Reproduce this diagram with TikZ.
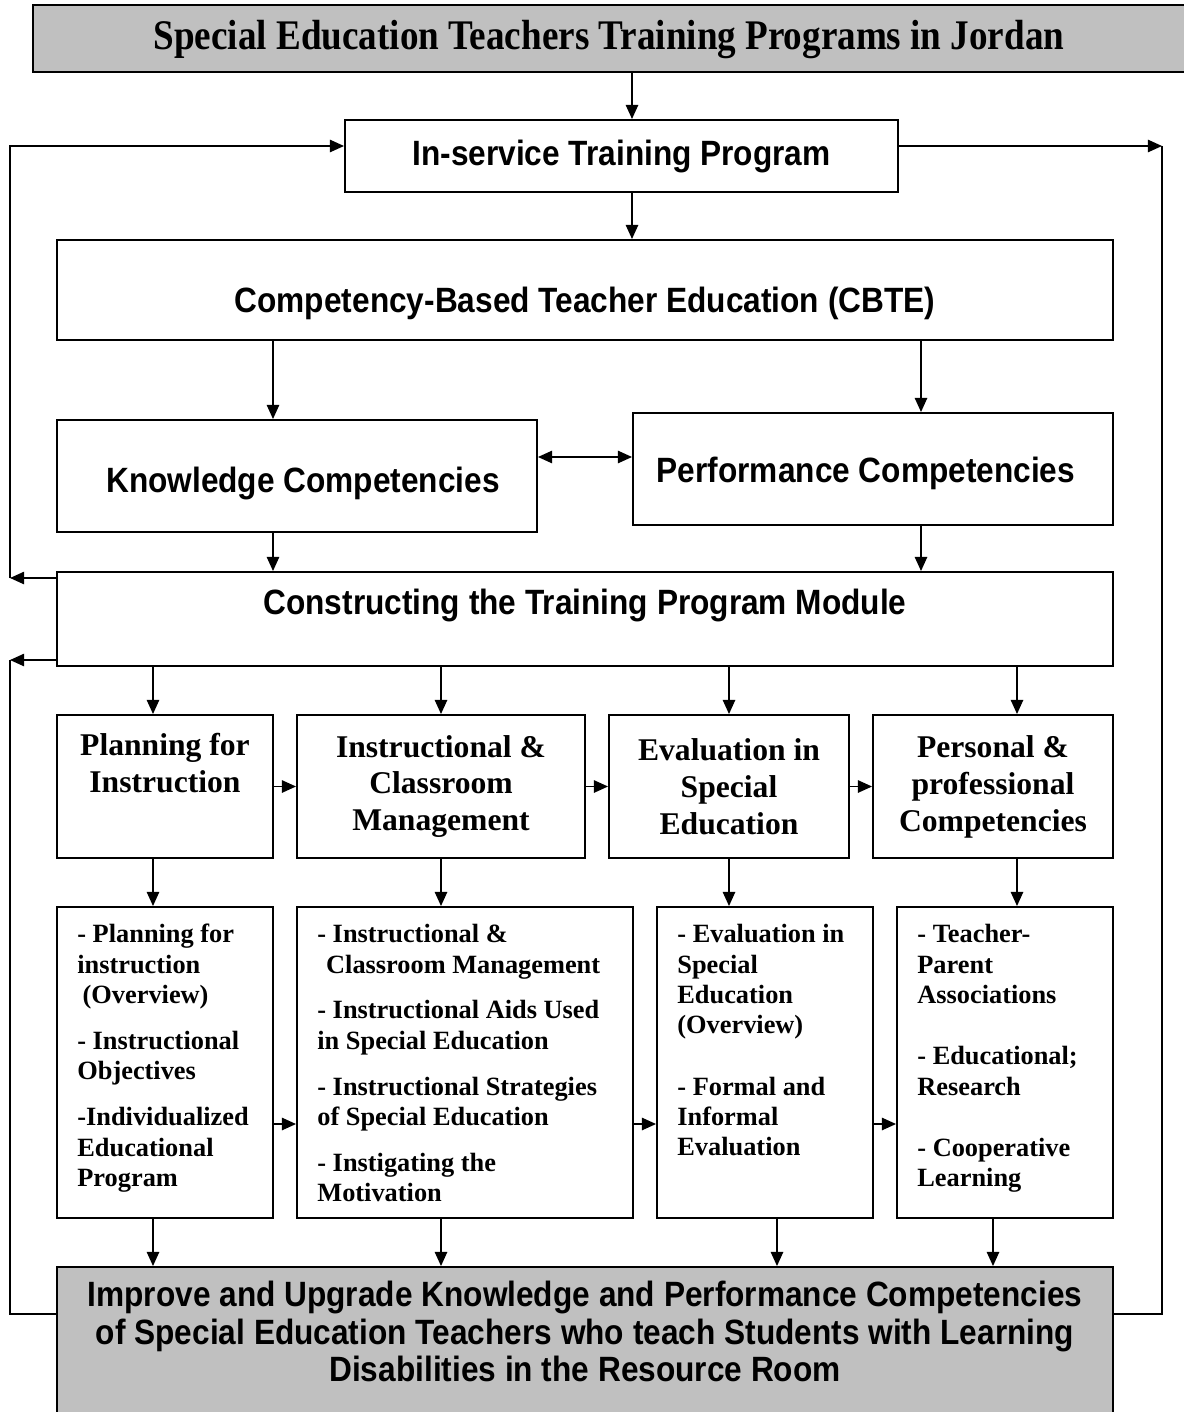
\documentclass[tikz,border=0pt]{standalone}
\usepackage{fontspec}
\setmainfont{Liberation Serif}
\setsansfont{Liberation Sans}
\newfontfamily\condserif{Liberation Serif Bold}[FakeStretch=0.88]
\newfontfamily\condsans{Liberation Sans Bold}[FakeStretch=0.9]
\usetikzlibrary{arrows.meta,positioning}
\definecolor{fmgray}{HTML}{C0C0C0}
\tikzset{
  box/.style={draw, line width=1.1pt, inner sep=0pt, align=center},
  gbox/.style={box, fill=fmgray},
  sz/.style 2 args={minimum width=#1*0.02cm, minimum height=#2*0.02cm},
  arr/.style={-{Triangle[length=8pt,width=7pt]}, line width=0.9pt},
  darr/.style={{Triangle[length=8pt,width=7pt]}-{Triangle[length=8pt,width=7pt]}, line width=0.9pt},
  stxt/.style={font=\condsans\fontsize{20}{21.3}\selectfont, align=center, inner sep=0pt},
  htxt/.style={font=\bfseries\fontsize{18}{21}\selectfont},
  ltxt/.style={font=\bfseries\fontsize{15}{17.3}\selectfont, align=left, inner sep=0pt, anchor=north west},
}
\begin{document}
\begin{tikzpicture}[x=0.02cm, y=-0.02cm]
\useasboundingbox (0,0) rectangle (1183,1412);
% guides for connectors
\coordinate (xm) at (632,0);
\coordinate (xk) at (273,0);
\coordinate (xp) at (921,0);
\coordinate (ca) at (153,0);
\coordinate (cb) at (441,0);
\coordinate (cc) at (729,0);
\coordinate (cd) at (1017,0);
\coordinate (ce) at (777,0);
\coordinate (cf) at (993,0);
\coordinate (xl) at (10,0);
\coordinate (xr) at (1162,0);
\coordinate (yin) at (0,146);
\coordinate (ykp) at (0,457);
\coordinate (yc1) at (0,578);
\coordinate (yc2) at (0,660);
\coordinate (yr2) at (0,1124);
\coordinate (ybt) at (0,1314);

\node[gbox, sz={1200}{67}] (title) at (633,38.5) {};
\node[font=\condserif\fontsize{24}{25}\selectfont, inner sep=0pt] (titlet) at (609,40)
  {Special Education Teachers Training Programs in Jordan};
\node[box, sz={553}{72}, stxt] (inserv) at (621.5,156) {In-service Training Program};
\node[box, sz={1056}{100}] (cbte) at (585,290) {};
\node[stxt, below=0.96cm of cbte.north] (cbtet) {Competency-Based Teacher Education (CBTE)};
\node[box, sz={480}{112}] (know) at (297,476) {};
\node[stxt] (knowt) at ([xshift=0.12cm, yshift=-0.14cm]know.center) {Knowledge Competencies};
\node[box, sz={480}{112}] (perf) at (873,469) {};
\node[stxt] (perft) at ([xshift=-0.14cm, yshift=-0.08cm]perf.center) {Performance Competencies};
\node[box, sz={1056}{94}] (cons) at (585,619) {};
\node[stxt, below=0.36cm of cons.north] (const) {Constructing the Training Program Module};

% competency areas
\node[box, sz={216}{143}, htxt] (plan) at (165,786.5) {Planning for\\Instruction\\\strut};
\node[box, sz={288}{143}, htxt] (inst) at (441,786.5) {Instructional \&\\Classroom\\Management};
\node[box, sz={240}{143}, htxt] (eval) at (729,786.5) {Evaluation in\\Special\\Education};
\node[box, sz={240}{143}, htxt] (pers) at (993,786.5) {Personal \&\\professional\\Competencies};

% module topics
\node[box, sz={216}{311}] (planl) at (165,1062.5) {};
\node[box, sz={336}{311}] (instl) at (465,1062.5) {};
\node[box, sz={216}{311}] (evall) at (765,1062.5) {};
\node[box, sz={216}{311}] (persl) at (1005,1062.5) {};
\node[ltxt, below right=0.36cm and 0.42cm of planl.north west] (planlt)
  {- Planning for\\instruction\\\hspace*{3pt}(Overview)\\[8.8pt]- Instructional\\Objectives\\[8.8pt]-Individualized\\Educational\\Program};
\node[ltxt, below right=0.36cm and 0.42cm of instl.north west] (instlt)
  {- Instructional \&\\\hspace*{5pt}Classroom Management\\[8.8pt]- Instructional Aids Used\\in Special Education\\[8.8pt]- Instructional Strategies\\of Special Education\\[8.8pt]- Instigating the\\Motivation};
\node[ltxt, below right=0.36cm and 0.42cm of evall.north west] (evallt)
  {- Evaluation in\\Special\\Education\\(Overview)\\[17.5pt]- Formal and\\Informal\\Evaluation};
\node[ltxt, below right=0.36cm and 0.42cm of persl.north west] (perslt)
  {- Teacher-\\Parent\\Associations\\[17.5pt]- Educational;\\Research\\[17.5pt]- Cooperative\\Learning};

\node[gbox, sz={1056}{173}] (bot) at (585,1353.5) {};
\node[stxt, below=0.3cm of bot.north] (bott)
  {Improve and Upgrade Knowledge and Performance Competencies\\of Special Education Teachers who teach Students with Learning\\Disabilities in the Resource Room};

% connectors
\draw[arr] (xm |- title.south) -- (xm |- inserv.north);
\draw[arr] (xm |- inserv.south) -- (xm |- cbte.north);
\draw[arr] (xk |- cbte.south) -- (xk |- know.north);
\draw[arr] (xp |- cbte.south) -- (xp |- perf.north);
\draw[arr] (xk |- know.south) -- (xk |- cons.north);
\draw[arr] (xp |- perf.south) -- (xp |- cons.north);
\draw[darr] (know.east |- ykp) -- (perf.west |- ykp);
\foreach \cx/\u in {ca/plan, cb/inst, cc/eval, cd/pers}
  \draw[arr] (\cx |- cons.south) -- (\cx |- \u.north);
\foreach \cx/\u/\v in {ca/plan/planl, cb/inst/instl, cc/eval/evall, cd/pers/persl}
  \draw[arr] (\cx |- \u.south) -- (\cx |- \v.north);
\foreach \cx/\u in {ca/planl, cb/instl, ce/evall, cf/persl}
  \draw[arr] (\cx |- \u.south) -- (\cx |- bot.north);
\foreach \u/\v in {plan/inst, inst/eval, eval/pers}
  \draw[arr] (\u.east) -- (\v.west);
\foreach \u/\v in {planl/instl, instl/evall, evall/persl}
  \draw[arr] (\u.east |- yr2) -- (\v.west |- yr2);

% feedback loops
\draw[arr] (cons.west |- yc1) -- (xl |- yc1);
\draw[arr] (xl |- yc1) -- (xl |- yin) -- (inserv.west |- yin);
\draw[arr] (cons.west |- yc2) -- (xl |- yc2);
\draw[line width=0.9pt] (xl |- yc2) -- (xl |- ybt) -- (bot.west |- ybt);
\draw[arr] (inserv.east |- yin) -- (xr |- yin);
\draw[line width=0.9pt] (xr |- yin) -- (xr |- ybt) -- (bot.east |- ybt);
\end{tikzpicture}
\end{document}
